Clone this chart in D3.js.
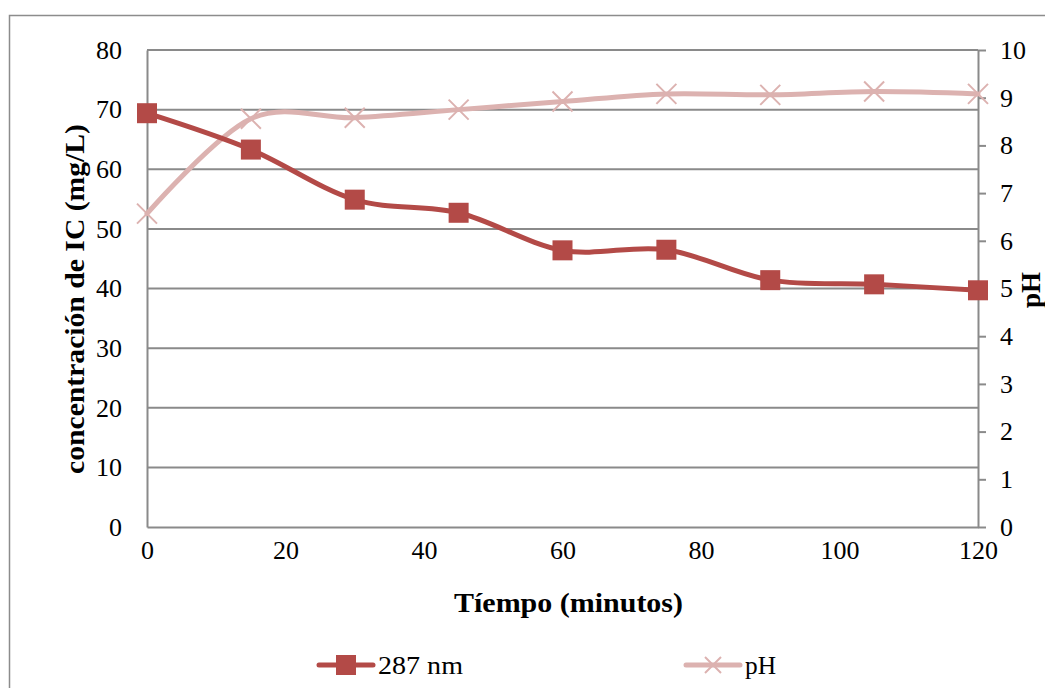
<!DOCTYPE html>
<html>
<head>
<meta charset="utf-8">
<script src="https://cdn.jsdelivr.net/npm/d3@7"></script>
<style>
  html, body { margin: 0; padding: 0; background: #fff; }
  svg { display: block; }
  text { font-family: "Liberation Serif", "Times New Roman", serif; fill: #000; }
</style>
</head>
<body>
<svg id="chart" width="1045" height="688"></svg>
<script>
// Time points (minutes)
const minutes = [0, 15, 30, 45, 60, 75, 90, 105, 120];
// Concentration of IC measured at 287 nm (mg/L)
const conc287 = [69.4, 63.3, 54.9, 52.7, 46.4, 46.5, 41.4, 40.7, 39.7];
// pH over time
const phValues = [6.57, 8.56, 8.58, 8.75, 8.92, 9.08, 9.06, 9.13, 9.08];

const xTicks = [0, 20, 40, 60, 80, 100, 120];
const leftTicks = [0, 10, 20, 30, 40, 50, 60, 70, 80];
const rightTicks = [0, 1, 2, 3, 4, 5, 6, 7, 8, 9, 10];

const seriesNames = ["287 nm", "pH"];
const xTitle = "Tíempo (minutos)";
const yTitle = "concentración de IC (mg/L)";
const y2Title = "pH";

const colorConc = "#b34a47";
const colorPh = "#dcb2b0";
const gridColor = "#8a8a8a";

const svg = d3.select("#chart");
const plot = { left: 147, right: 978, top: 50, bottom: 527 };

// outer frame of the chart area
svg.append("rect")
  .attr("x", 9.5).attr("y", 15.5)
  .attr("width", 1100).attr("height", 700)
  .attr("fill", "none").attr("stroke", "#8c8c8c").attr("stroke-width", 1.5);

const x = d3.scaleLinear().domain([0, 120]).range([plot.left, plot.right]);
const yL = d3.scaleLinear().domain([0, 80]).range([plot.bottom, plot.top]);
const yR = d3.scaleLinear().domain([0, 10]).range([plot.bottom, plot.top]);

// horizontal gridlines following the left axis
svg.append("g").selectAll("line").data(leftTicks.filter(d => d > 0)).join("line")
  .attr("x1", plot.left).attr("x2", plot.right)
  .attr("y1", d => yL(d)).attr("y2", d => yL(d))
  .attr("stroke", gridColor).attr("stroke-width", 2);

const tickFont = "26px";

// left axis (labels only, axis line)
const gL = svg.append("g").attr("transform", `translate(${plot.left},0)`)
  .call(d3.axisLeft(yL).tickValues(leftTicks).tickSize(0).tickPadding(25));
gL.select(".domain").attr("stroke", gridColor).attr("stroke-width", 2);
gL.selectAll("text").style("font-size", tickFont).attr("fill", "#000");

// bottom axis
const gB = svg.append("g").attr("transform", `translate(0,${plot.bottom})`)
  .call(d3.axisBottom(x).tickValues(xTicks).tickSize(0).tickPadding(14));
gB.select(".domain").attr("stroke", gridColor).attr("stroke-width", 2);
gB.selectAll("text").style("font-size", tickFont).attr("fill", "#000");

// right axis with outward ticks
const gR = svg.append("g").attr("transform", `translate(${plot.right},0)`)
  .call(d3.axisRight(yR).tickValues(rightTicks).tickSize(8).tickSizeOuter(0).tickPadding(14));
gR.select(".domain").attr("stroke", gridColor).attr("stroke-width", 2);
gR.selectAll(".tick line").attr("stroke", gridColor).attr("stroke-width", 2);
gR.selectAll("text").style("font-size", tickFont).attr("fill", "#000");

// axis titles
svg.append("text")
  .attr("transform", `translate(${x(60) + 6},612)`)
  .attr("text-anchor", "middle")
  .attr("textLength", 229).attr("lengthAdjust", "spacingAndGlyphs")
  .style("font-size", "27px").style("font-weight", "bold")
  .text(xTitle);

svg.append("text")
  .attr("transform", `translate(84,299) rotate(-90)`)
  .attr("text-anchor", "middle")
  .attr("textLength", 350).attr("lengthAdjust", "spacingAndGlyphs")
  .style("font-size", "27px").style("font-weight", "bold")
  .text(yTitle);

svg.append("text")
  .attr("transform", `translate(1040,290) rotate(-90)`)
  .attr("text-anchor", "middle")
  .style("font-size", "27px").style("font-weight", "bold")
  .text(y2Title);

// series lines (smoothed)
const lineConc = d3.line().curve(d3.curveCardinal.tension(0))
  .x((d, i) => x(minutes[i])).y(d => yL(d));
const linePh = d3.line().curve(d3.curveCardinal.tension(0))
  .x((d, i) => x(minutes[i])).y(d => yR(d));

svg.append("path").datum(phValues)
  .attr("d", linePh).attr("fill", "none")
  .attr("stroke", colorPh).attr("stroke-width", 5).attr("stroke-linecap", "round");

svg.append("g").selectAll("path").data(phValues).join("path")
  .attr("transform", (d, i) => `translate(${x(minutes[i])},${yR(d)})`)
  .attr("d", "M-10,-10L10,10M-10,10L10,-10")
  .attr("stroke", colorPh).attr("stroke-width", 2).attr("fill", "none");

svg.append("path").datum(conc287)
  .attr("d", lineConc).attr("fill", "none")
  .attr("stroke", colorConc).attr("stroke-width", 5).attr("stroke-linecap", "round");

svg.append("g").selectAll("rect").data(conc287).join("rect")
  .attr("x", (d, i) => x(minutes[i]) - 10).attr("y", d => yL(d) - 10)
  .attr("width", 20).attr("height", 20)
  .attr("fill", colorConc);

// legend
const legend = svg.append("g");
const legendItems = [
  { name: seriesNames[0], x0: 319, color: colorConc, marker: "square", w: 85 },
  { name: seriesNames[1], x0: 686, color: colorPh, marker: "cross", w: 31 }
];
const ly = 665;
legendItems.forEach(it => {
  legend.append("line")
    .attr("x1", it.x0).attr("x2", it.x0 + 54)
    .attr("y1", ly).attr("y2", ly)
    .attr("stroke", it.color).attr("stroke-width", 5).attr("stroke-linecap", "round");
  const cx = it.x0 + 27;
  if (it.marker === "square") {
    legend.append("rect").attr("x", cx - 10).attr("y", ly - 10)
      .attr("width", 20).attr("height", 20).attr("fill", it.color);
  } else {
    legend.append("path").attr("transform", `translate(${cx},${ly})`)
      .attr("d", "M-8,-8L8,8M-8,8L8,-8")
      .attr("stroke", it.color).attr("stroke-width", 2);
  }
  legend.append("text")
    .attr("x", it.x0 + 59).attr("y", ly + 9)
    .attr("textLength", it.w).attr("lengthAdjust", "spacingAndGlyphs")
    .style("font-size", "26px")
    .text(it.name);
});
</script>
</body>
</html>
